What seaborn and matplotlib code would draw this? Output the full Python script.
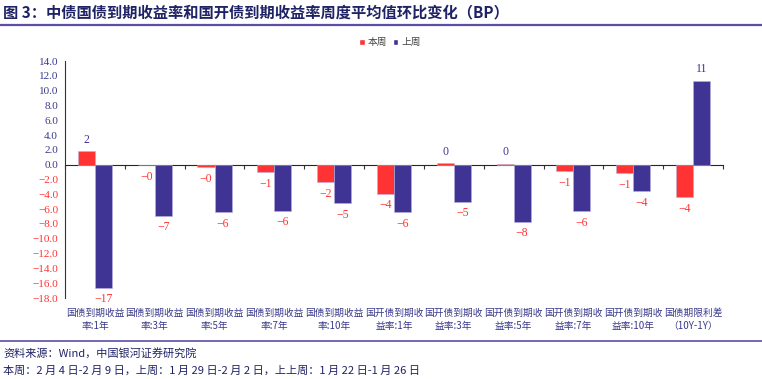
import numpy as np
import pandas as pd
import seaborn as sns
import matplotlib.pyplot as plt
from matplotlib.patches import Patch
from matplotlib.ticker import FuncFormatter

# categories and weekly changes (BP)
categories = ['国债到期收益\n率:1年', '国债到期收益\n率:3年', '国债到期收益\n率:5年',
              '国债到期收益\n率:7年', '国债到期收益\n率:10年', '国开债到期收\n益率:1年',
              '国开债到期收\n益率:3年', '国开债到期收\n益率:5年', '国开债到期收\n益率:7年',
              '国开债到期收\n益率:10年', '国债期限利差\n（10Y-1Y）']
this_week = [1.8, -0.1, -0.35, -1.0, -2.4, -3.9, 0.2, 0.1, -0.85, -1.15, -4.4]
last_week = [-16.6, -6.9, -6.4, -6.2, -5.2, -6.4, -5.0, -7.7, -6.3, -3.6, 11.3]
series_names = ['本周', '上周']
y_ticks = np.arange(-18, 15, 2)

RED = '#FF3333'
NAVY = '#3F3494'
TXT = '#3A3A8C'

df = pd.DataFrame({
    'cat': categories * 2,
    'week': [series_names[0]] * len(categories) + [series_names[1]] * len(categories),
    'val': this_week + last_week,
})

sns.set_style('white')
plt.rcParams['font.family'] = ['Liberation Serif', 'Noto Sans CJK SC']
plt.rcParams['axes.unicode_minus'] = True

fig = plt.figure(figsize=(7.62, 3.79), dpi=100)
ax = fig.add_axes([0.0853, 0.2137, 0.8635, 0.6253])

sns.barplot(data=df, x='cat', y='val', hue='week', order=categories,
            hue_order=series_names, palette=[RED, NAVY], saturation=1,
            width=0.57, edgecolor='#b8b0e0', linewidth=0.4, ax=ax)
ax.get_legend().remove()

# data labels: positive in blue above, negative in red below
for cont in ax.containers:
    vals = cont.datavalues
    labels = [f'{v:.0f}'.replace('-', '−') for v in vals]
    texts = ax.bar_label(cont, labels=labels, padding=4, fontsize=8.5,
                         family='Liberation Serif')
    for t, v in zip(texts, vals):
        t.set_color(NAVY if v >= 0 else RED)

ax.set_ylim(-18, 14)
ax.set_xlim(-0.5, len(categories) - 0.5)
ax.set_yticks(y_ticks)
ax.yaxis.set_major_formatter(FuncFormatter(lambda v, p: f'{v:.1f}'.replace('-', '−')))
ax.tick_params(axis='y', direction='out', length=3, width=0.8, labelsize=8, pad=2)
for lbl, v in zip(ax.get_yticklabels(), y_ticks):
    lbl.set_color(TXT if v >= 0 else RED)

ax.set_xlabel('')
ax.set_ylabel('')
ax.tick_params(axis='x', length=0, pad=7)
for lbl in ax.get_xticklabels():
    lbl.set_family('Noto Sans CJK SC')
    lbl.set_fontsize(7)
    lbl.set_color(TXT)
    lbl.set_linespacing(1.45)
    lbl.set_multialignment('center')

for s in ['top', 'right', 'bottom']:
    ax.spines[s].set_visible(False)
ax.spines['left'].set_color('#333333')
ax.spines['left'].set_linewidth(0.8)

# zero line with category boundary ticks
zero = ax.secondary_xaxis(18 / 32)
zero.set_xticks(np.arange(-0.5, len(categories), 1.0))
zero.set_xticklabels([])
zero.tick_params(direction='in', length=3, width=0.8, color='#333333')
zero.spines['bottom'].set_color('#333333')
zero.spines['bottom'].set_linewidth(0.8)

# legend
handles = [Patch(facecolor=RED), Patch(facecolor=NAVY)]
leg = fig.legend(handles, series_names, loc='center', bbox_to_anchor=(0.512, 0.889),
                 ncol=2, frameon=False, handlelength=0.55, handleheight=0.55,
                 handletextpad=0.3, columnspacing=0.6,
                 prop={'family': 'Noto Sans CJK SC', 'size': 7})
for t in leg.get_texts():
    t.set_color('#444444')

# title and footer
fig.text(0.004, 0.968, '图 3：中债国债到期收益率和国开债到期收益率周度平均值环比变化（BP）',
         family=['Noto Sans CJK SC'], fontsize=11, fontweight='bold',
         color='#1F2366', va='center', ha='left')
fig.add_artist(plt.Line2D([0, 1], [0.934, 0.934], color='#5B4FA8', lw=1.6))
fig.add_artist(plt.Line2D([0, 1], [0.101, 0.101], color='#5B4FA8', lw=1.2))
fig.text(0.004, 0.068, '资料来源：Wind，中国银河证券研究院',
         family=['Noto Sans CJK SC'], fontsize=8, style='italic',
         color='#1F2366', va='center', ha='left')
fig.text(0.004, 0.022, '本周：2 月 4 日-2 月 9 日，上周：1 月 29 日-2 月 2 日，上上周：1 月 22 日-1 月 26 日',
         family=['Noto Sans CJK SC'], fontsize=8, style='italic',
         color='#1F2366', va='center', ha='left')

fig.savefig('out.png', dpi=100)
